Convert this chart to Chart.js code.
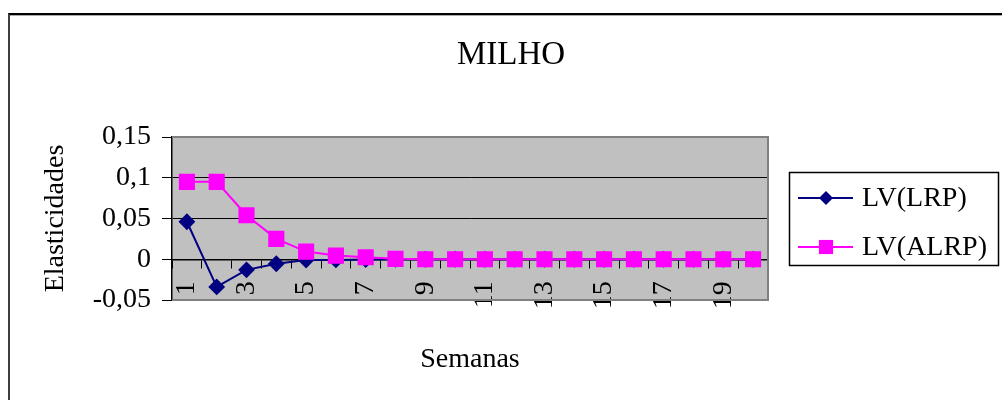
<!DOCTYPE html>
<html>
<head>
<meta charset="utf-8">
<script src="https://cdn.jsdelivr.net/npm/chart.js@4.4.1/dist/chart.umd.min.js"></script>
<style>
  body { margin: 0; background: #fff; }
  #wrap { position: relative; width: 1002px; height: 400px; }
  #frame { position: absolute; left: 8px; top: 13px; width: 1100px; height: 500px;
           border-left: 2px solid #404040; border-top: 2px solid #000;
           box-shadow: 0 1px 0 #aaa inset; pointer-events: none; }
</style>
</head>
<body>
<div id="wrap">
  <canvas id="my-chart"></canvas>
  <div id="frame"></div>
</div>
<script>
const weeks = ['1','2','3','4','5','6','7','8','9','10','11','12','13','14','15','16','17','18','19','20'];
const lrp  = [0.046, -0.034, -0.013, -0.0055, -0.001, -0.0008, -0.0004, 0, 0, 0, 0, 0, 0, 0, 0, 0, 0, 0, 0, 0];
const alrp = [0.095, 0.095, 0.054, 0.025, 0.0094, 0.0045, 0.0025, 0.0005, 0, 0, 0, 0, 0, 0, 0, 0, 0, 0, 0, 0];
const seriesNames = ['LV(LRP)', 'LV(ALRP)'];
const yTicks = { min: -0.05, max: 0.15, step: 0.05 };

const serif = '"Liberation Serif", "Times New Roman", serif';

// grey plot background, border, titles and the boxed legend
const decor = {
  id: 'decor',
  beforeDraw(chart) {
    const { ctx, chartArea: a } = chart;
    ctx.save();
    ctx.fillStyle = '#c0c0c0';
    ctx.fillRect(a.left, a.top, a.right - a.left, a.bottom - a.top);
    ctx.restore();
  },
  afterDraw(chart) {
    const { ctx, chartArea: a } = chart;
    ctx.save();
    ctx.strokeStyle = '#808080';
    ctx.lineWidth = 2;
    ctx.beginPath();
    ctx.moveTo(a.left, a.top);
    ctx.lineTo(a.right, a.top);
    ctx.lineTo(a.right, a.bottom);
    ctx.lineTo(a.left, a.bottom);
    ctx.stroke();

    ctx.fillStyle = '#000';
    ctx.textAlign = 'center';
    ctx.textBaseline = 'alphabetic';
    ctx.font = '33px ' + serif;
    ctx.fillText('MILHO', 511, 64);
    ctx.font = '28px ' + serif;
    ctx.fillText('Semanas', (a.left + a.right) / 2, 367);

    // legend
    ctx.strokeStyle = '#000';
    ctx.lineWidth = 1.5;
    ctx.strokeRect(789.5, 172.5, 209, 93);
    const rows = [198, 247];
    chart.data.datasets.forEach((ds, i) => {
      const y = rows[i];
      ctx.strokeStyle = ds.borderColor;
      ctx.lineWidth = 2;
      ctx.beginPath();
      ctx.moveTo(798, y);
      ctx.lineTo(853, y);
      ctx.stroke();
      ctx.fillStyle = ds.pointBackgroundColor;
      const cx = 826;
      if (ds.pointStyle === 'rectRot') {
        const r = ds.pointRadius;
        ctx.beginPath();
        ctx.moveTo(cx, y - r);
        ctx.lineTo(cx + r, y);
        ctx.lineTo(cx, y + r);
        ctx.lineTo(cx - r, y);
        ctx.closePath();
        ctx.fill();
      } else {
        const s = ds.pointRadius * Math.SQRT1_2;
        ctx.fillRect(cx - s, y - s, 2 * s, 2 * s);
      }
      ctx.fillStyle = '#000';
      ctx.textAlign = 'left';
      ctx.fillText(ds.label, 862, y + 8);
    });
    ctx.restore();
  }
};

const ctx = document.getElementById('my-chart').getContext('2d');
const chart = new Chart(ctx, {
  type: 'line',
  data: {
    labels: weeks,
    datasets: [
      {
        label: seriesNames[0],
        data: lrp,
        borderColor: '#000080',
        backgroundColor: '#000080',
        pointBackgroundColor: '#000080',
        pointBorderColor: '#000080',
        pointStyle: 'rectRot',
        pointRadius: 7,
        borderWidth: 2,
        tension: 0,
        order: 1
      },
      {
        label: seriesNames[1],
        data: alrp,
        borderColor: '#ff00ff',
        backgroundColor: '#ff00ff',
        pointBackgroundColor: '#ff00ff',
        pointBorderColor: '#ff00ff',
        pointStyle: 'rect',
        pointRadius: 10,
        borderWidth: 2,
        tension: 0,
        order: 0
      }
    ]
  },
  options: {
    responsive: true,
    maintainAspectRatio: false,
    animation: false,
    layout: { padding: { top: 137, right: 234, bottom: 100, left: 20 } },
    plugins: {
      legend: { display: false },
      title: { display: false },
      tooltip: { enabled: false }
    },
    scales: {
      x: {
        position: { y: 0 },
        offset: true,
        grid: {
          offset: true,
          drawOnChartArea: false,
          drawTicks: true,
          tickLength: 8,
          color: '#000',
          lineWidth: 1
        },
        border: { display: true, color: '#000', width: 1.5 },
        ticks: {
          autoSkip: false,
          minRotation: 90,
          maxRotation: 90,
          padding: 14,
          color: '#000',
          font: { family: serif, size: 28 },
          callback: (v, i) => (i % 2 === 0 ? weeks[i] : '')
        }
      },
      y: {
        min: yTicks.min,
        max: yTicks.max,
        afterFit: (scale) => { scale.width = 152; },
        grid: { color: '#000', lineWidth: 1, tickLength: 10 },
        border: { display: true, color: '#000', width: 1.5 },
        ticks: {
          stepSize: yTicks.step,
          padding: 11,
          color: '#000',
          font: { family: serif, size: 28 },
          callback: (v) => Number(v.toFixed(2)).toString().replace('.', ',')
        },
        title: {
          display: true,
          text: 'Elasticidades',
          color: '#000',
          font: { family: serif, size: 28 },
          padding: { top: 19, bottom: 0 }
        }
      }
    }
  },
  plugins: [decor]
});
</script>
</body>
</html>
